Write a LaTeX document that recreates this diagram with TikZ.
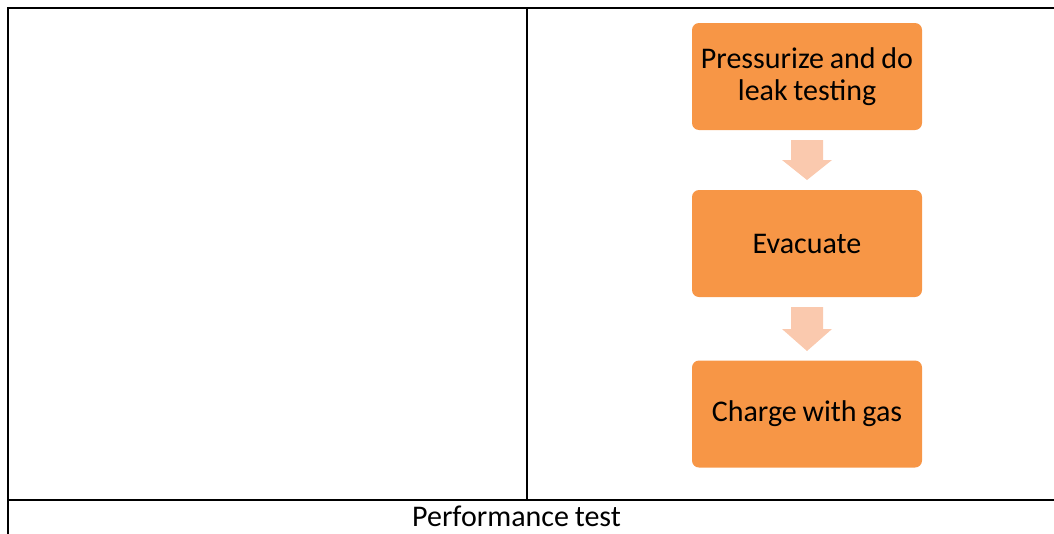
\documentclass[tikz,border=0pt]{standalone}
\usepackage{fontspec}
\setmainfont{Carlito}[WordSpace=0.85]
\definecolor{boxorange}{RGB}{247,150,70}
\definecolor{arrowpeach}{RGB}{250,201,174}
\begin{document}
\begin{tikzpicture}[x=1pt,y=-1pt,
  stepbox/.style={fill=boxorange, draw=none, rounded corners=7pt, minimum width=230pt, minimum height=107pt, inner sep=0pt, align=center, font=\fontsize{30}{32}\selectfont},
  rule/.style={line width=2pt, line cap=rect}]
\useasboundingbox (0,0) rectangle (1054,533);
% table
\coordinate (tl) at (8,8);
\coordinate (tr) at (1056,8);
\coordinate (bl) at (8,540);
\coordinate (ml) at (8,500);
\coordinate (mr) at (1056,500);
\coordinate (dt) at (527,8);
\coordinate (db) at (527,500);
\draw[rule] (tr) -- (tl) -- (bl);
\draw[rule] (ml) -- (mr);
\draw[rule] (dt) -- (db);
\node[font=\fontsize{30}{32}\selectfont, anchor=base, inner sep=0pt] (perf) at (516.5,526) {Performance test};
% flow
\node[stepbox] (s1) at (807,76.5) {Pressurize and do\\leak testing};
\node[stepbox] (s2) at (807,243.5) {Evacuate};
\node[stepbox] (s3) at (807,414) {Charge with gas};
\fill[arrowpeach] (791,140) -- (823,140) -- (823,160) -- (832,160) -- (807,180) -- (782,160) -- (791,160) -- cycle;
\fill[arrowpeach] (791,307) -- (823,307) -- (823,329) -- (832,329) -- (807,351) -- (782,329) -- (791,329) -- cycle;
\end{tikzpicture}
\end{document}
